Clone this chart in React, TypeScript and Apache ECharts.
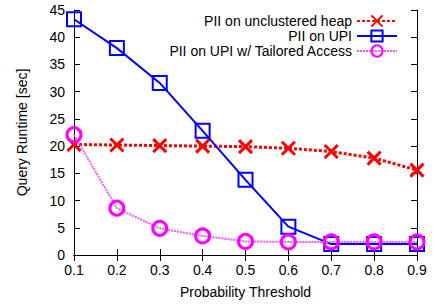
import React, { useEffect, useRef } from "react";
import * as echarts from "echarts";

const categories = ["0.1", "0.2", "0.3", "0.4", "0.5", "0.6", "0.7", "0.8", "0.9"];
const heapValues = [20.3, 20.2, 20.1, 20.0, 19.9, 19.6, 19.0, 17.8, 15.6];
const upiValues = [43.3, 38.0, 31.6, 22.8, 13.8, 5.2, 2.0, 2.0, 2.0];
const tailoredValues = [22.1, 8.6, 4.9, 3.5, 2.5, 2.4, 2.4, 2.4, 2.4];
const seriesNames = [
  "PII on unclustered heap",
  "PII on UPI",
  "PII on UPI w/ Tailored Access",
];

const FONT = "Liberation Sans, Arial, sans-serif";
const crossPath = "path://M0,0 L10,10 M10,0 L0,10";

export default function App() {
  const ref = useRef<HTMLDivElement>(null);
  useEffect(() => {
    if (!ref.current) return;
    const chart = echarts.init(ref.current, null, { renderer: "svg" });
    const tickCommon = { show: true, inside: true, length: 6, lineStyle: { color: "#000", width: 1 } };
    const legendBase = (name: string, top: number) => ({
      data: [name],
      orient: "vertical",
      right: 47,
      top,
      align: "right",
      itemWidth: 40,
      itemHeight: 14,
      padding: 0,
      textStyle: { fontFamily: FONT, fontSize: 14, color: "#000" },
    });
    chart.setOption({
      animation: false,
      backgroundColor: "#fff",
      grid: { left: 74, right: 28, top: 10, bottom: 50, containLabel: false },
      legend: [
        legendBase(seriesNames[0], 14),
        legendBase(seriesNames[1], 29),
        legendBase(seriesNames[2], 44),
      ],
      xAxis: [
        {
          type: "category",
          data: categories,
          boundaryGap: false,
          name: "Probability Threshold",
          nameLocation: "middle",
          nameGap: 30,
          nameTextStyle: { fontFamily: FONT, fontSize: 14, color: "#000" },
          axisLine: { show: true, lineStyle: { color: "#000", width: 1 } },
          axisTick: { ...tickCommon, alignWithLabel: true },
          axisLabel: { fontFamily: FONT, fontSize: 14, color: "#000", margin: 8 },
          splitLine: { show: false },
        },
        {
          type: "category",
          data: categories,
          boundaryGap: false,
          position: "top",
          axisLine: { show: true, lineStyle: { color: "#000", width: 1 } },
          axisTick: { ...tickCommon },
          axisLabel: { show: false },
          splitLine: { show: false },
        },
      ],
      yAxis: [
        {
          type: "value",
          min: 0,
          max: 45,
          interval: 5,
          name: "Query Runtime [sec]",
          nameLocation: "middle",
          nameGap: 45,
          nameTextStyle: { fontFamily: FONT, fontSize: 14, color: "#000" },
          axisLine: { show: true, lineStyle: { color: "#000", width: 1 } },
          axisTick: { ...tickCommon },
          axisLabel: { fontFamily: FONT, fontSize: 14, color: "#000", margin: 9 },
          splitLine: { show: false },
        },
        {
          type: "value",
          min: 0,
          max: 45,
          interval: 5,
          position: "right",
          axisLine: { show: true, lineStyle: { color: "#000", width: 1 } },
          axisTick: { ...tickCommon },
          axisLabel: { show: false },
          splitLine: { show: false },
        },
      ],
      series: [
        {
          name: seriesNames[0],
          type: "line",
          data: heapValues,
          color: "#ff0000",
          symbol: crossPath,
          symbolSize: 13,
          lineStyle: { color: "#ff0000", width: 3, type: [3, 2] },
          itemStyle: { color: "#ff0000", borderColor: "#ff0000", borderWidth: 3 },
          z: 3,
        },
        {
          name: seriesNames[1],
          type: "line",
          data: upiValues,
          color: "#0000ff",
          symbol: "rect",
          symbolSize: 14,
          lineStyle: { color: "#0000ff", width: 2 },
          itemStyle: { color: "rgba(0,0,0,0)", borderColor: "#0000ff", borderWidth: 2 },
          z: 4,
        },
        {
          name: seriesNames[2],
          type: "line",
          data: tailoredValues,
          color: "#ff00ff",
          symbol: "circle",
          symbolSize: 14,
          lineStyle: { color: "#ff55ff", width: 2, type: [2, 1] },
          itemStyle: { color: "rgba(0,0,0,0)", borderColor: "#ff00ff", borderWidth: 3 },
          z: 5,
        },
      ],
    });
    return () => chart.dispose();
  }, []);
  return (
    <div
      ref={ref}
      style={{ position: "absolute", left: 0, top: 0, width: 445, height: 305 }}
    />
  );
}
